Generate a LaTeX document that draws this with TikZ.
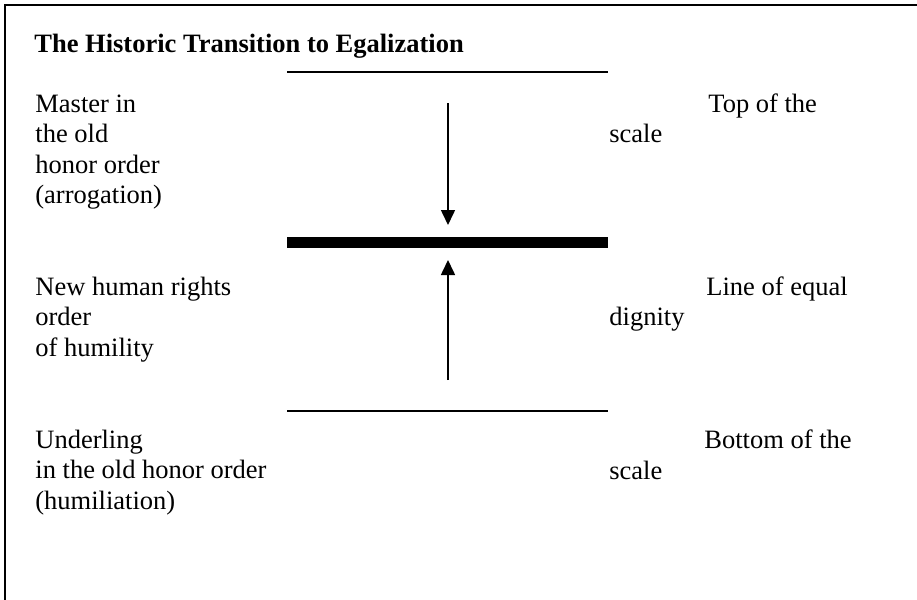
\documentclass[tikz,border=0pt]{standalone}
\usepackage{fontspec}
\setmainfont{Liberation Serif}
\usetikzlibrary{arrows.meta,positioning}

\begin{document}
\begin{tikzpicture}[x=0.5pt, y=-0.5pt, >={Triangle[length=7.5pt,width=7pt]},
  every node/.style={inner sep=0pt, font=\fontsize{13.25}{15.25}\selectfont},
  label/.style={anchor=base west, align=left}]
  \useasboundingbox (0,0) rectangle (917,600);
  % frame, cut off at right and bottom
  \draw[line width=1pt] (5,600) -- (5,5) -- (917,5);
  \node[label, font=\fontsize{13.25}{15.25}\selectfont\bfseries] (title) at (34,52) {The Historic Transition to Egalization};
  % scale lines
  \coordinate (topL) at (287,72);
  \coordinate (topR) at (608,72);
  \coordinate (midL) at (287,242);
  \coordinate (midR) at (608,242);
  \coordinate (botL) at (287,411);
  \coordinate (botR) at (608,411);
  \draw[line width=1pt] (topL) -- (topR);
  \draw[line width=5.5pt] (midL) -- (midR);
  \draw[line width=1pt] (botL) -- (botR);
  % arrows towards the line of equal dignity
  \coordinate (downS) at (448,103);
  \coordinate (downE) at (448,225);
  \coordinate (upS) at (448,380);
  \coordinate (upE) at (448,260);
  \draw[->, line width=0.8pt] (downS) -- (downE);
  \draw[->, line width=0.8pt] (upS) -- (upE);
  % left texts (base = last line)
  \node[label] (master) at (35,203.5) {Master in\\the old\\honor order\\(arrogation)};
  \node[label] (human) at (35,356) {New human rights\\order\\of humility};
  \node[label] (underling) at (35,509) {Underling\\in the old honor order\\(humiliation)};
  % right texts
  \node[label] (topA) at (708,112) {Top of the};
  \node[label] (topB) at (609,142) {scale};
  \node[label] (equalA) at (706,295) {Line of equal};
  \node[label] (equalB) at (609,325) {dignity};
  \node[label] (bottomA) at (704,448) {Bottom of the};
  \node[label] (bottomB) at (609,479) {scale};
\end{tikzpicture}
\end{document}
